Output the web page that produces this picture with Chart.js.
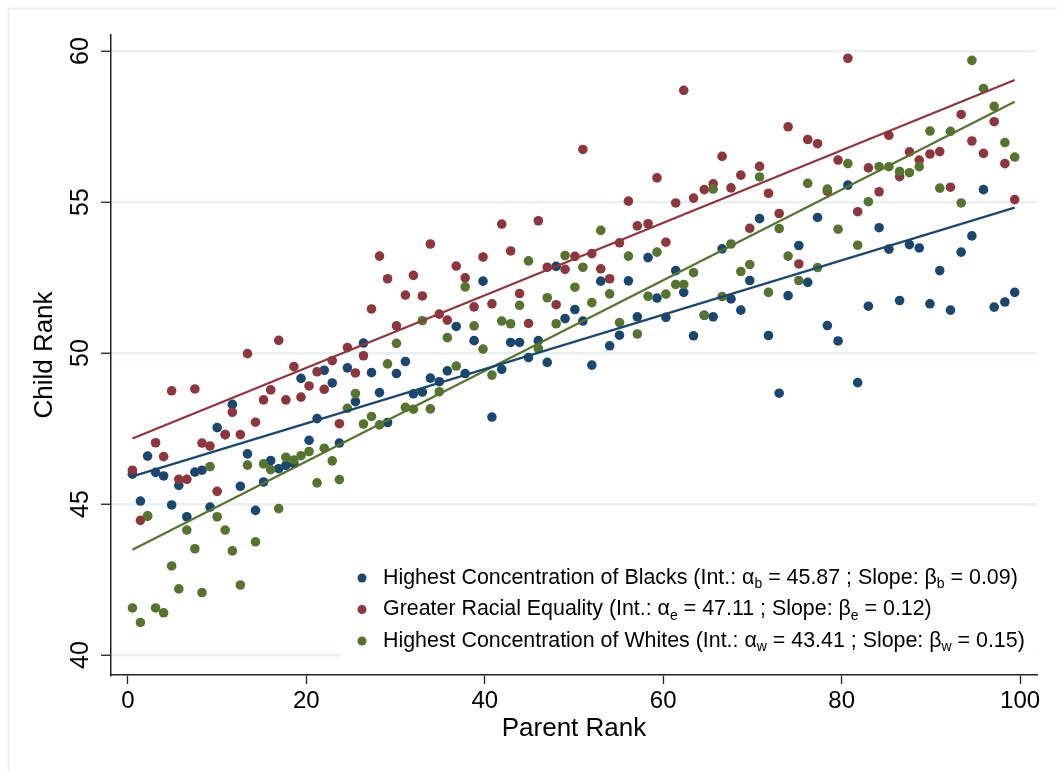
<!DOCTYPE html>
<html>
<head>
<meta charset="utf-8">
<title>Child Rank vs Parent Rank</title>
<script src="https://cdn.jsdelivr.net/npm/chart.js@4/dist/chart.umd.min.js"></script>
<style>
  html, body { margin: 0; padding: 0; background: #ffffff; }
  #chart { display: block; }
</style>
</head>
<body>
<canvas id="chart" width="1057" height="770"></canvas>
<script>
// Mean parent rank of each bin
const parentRank = [
  0.5, 1.4, 2.2, 3.1, 4.0, 4.9, 5.7, 6.6, 7.5, 8.3,
  9.2, 10.0, 10.9, 11.7, 12.6, 13.4, 14.3, 15.2, 16.0, 16.9,
  17.7, 18.6, 19.4, 20.3, 21.2, 22.0, 22.9, 23.7, 24.6, 25.5,
  26.4, 27.3, 28.2, 29.1, 30.1, 31.1, 32.0, 33.0, 33.9, 34.9,
  35.8, 36.8, 37.8, 38.8, 39.8, 40.8, 41.9, 42.9, 43.9, 44.9,
  46.0, 47.0, 48.0, 49.0, 50.1, 51.0, 52.0, 53.0, 54.0, 55.1,
  56.1, 57.1, 58.3, 59.3, 60.3, 61.4, 62.3, 63.4, 64.6, 65.6,
  66.6, 67.6, 68.7, 69.7, 70.8, 71.8, 73.0, 74.0, 75.2, 76.2,
  77.3, 78.4, 79.6, 80.7, 81.8, 83.0, 84.2, 85.3, 86.5, 87.6,
  88.7, 89.9, 91.0, 92.2, 93.4, 94.6, 95.9, 97.1, 98.3, 99.4
];

// Mean child rank per bin, by area group
const childRankBlacks = [
  45.99, 45.10, 46.59, 46.05, 45.93, 44.97, 45.62, 44.58, 46.06, 46.12,
  44.90, 47.53, 47.30, 48.30, 45.59, 46.66, 44.79, 45.73, 46.44, 46.17,
  46.28, 46.34, 49.16, 47.11, 47.83, 49.43, 49.01, 47.02, 49.51, 48.39,
  50.33, 49.35, 48.69, 47.70, 49.32, 49.72, 48.65, 48.71, 49.17, 49.05,
  49.41, 50.88, 49.32, 50.41, 52.38, 47.88, 49.46, 50.35, 50.35, 49.85,
  50.41, 49.69, 52.87, 51.14, 51.44, 51.06, 49.60, 52.38, 50.24, 50.59,
  52.39, 51.20, 53.16, 51.82, 51.18, 52.73, 52.01, 50.57, 51.25, 51.20,
  53.45, 51.79, 51.42, 52.40, 54.45, 50.58, 48.67, 51.90, 53.56, 52.34,
  54.49, 50.91, 50.40, 55.56, 49.02, 51.55, 54.15, 53.44, 51.74, 53.59,
  53.48, 51.63, 52.73, 51.42, 53.34, 53.88, 55.41, 51.52, 51.69, 52.01
];

const childRankEquality = [
  46.12, 44.46, 44.60, 47.03, 46.57, 48.75, 45.82, 45.82, 48.81, 47.02,
  46.92, 45.42, 47.30, 48.04, 47.30, 49.98, 47.71, 48.45, 48.78, 50.42,
  48.45, 49.55, 48.54, 48.91, 49.38, 48.80, 49.75, 47.66, 50.18, 49.34,
  49.91, 51.46, 53.21, 52.46, 50.90, 51.92, 52.57, 51.89, 53.61, 51.29,
  51.09, 52.88, 52.49, 51.53, 53.18, 51.63, 54.27, 53.38, 51.97, 50.98,
  54.38, 52.84, 51.60, 52.77, 53.20, 56.74, 53.29, 52.79, 52.46, 53.65,
  55.03, 54.21, 54.28, 55.80, 53.67, 54.97, 58.70, 55.13, 55.41, 55.60,
  56.51, 55.47, 55.89, 54.13, 56.18, 55.29, 54.62, 57.49, 52.95, 57.07,
  56.93, 55.36, 56.39, 59.76, 54.68, 56.13, 55.34, 57.21, 55.84, 56.66,
  56.39, 56.59, 56.67, 55.49, 57.90, 57.02, 56.61, 57.66, 56.27, 55.08
];

const childRankWhites = [
  41.56, 41.08, 44.61, 41.56, 41.40, 42.95, 42.19, 44.14, 43.52, 42.07,
  46.24, 44.58, 44.14, 43.45, 42.32, 46.29, 43.75, 46.33, 46.14, 44.85,
  46.55, 46.46, 46.60, 46.74, 45.70, 46.85, 46.43, 45.81, 48.17, 48.66,
  47.65, 47.90, 47.62, 49.64, 50.32, 48.20, 48.14, 51.07, 48.15, 48.72,
  50.51, 49.57, 52.19, 50.90, 50.13, 49.27, 51.06, 50.97, 51.58, 53.05,
  50.15, 51.83, 50.97, 53.23, 52.18, 52.84, 51.67, 54.06, 51.96, 51.01,
  53.21, 50.63, 51.88, 53.34, 51.95, 52.27, 52.27, 52.66, 51.25, 55.43,
  51.87, 53.61, 52.70, 52.93, 55.83, 52.01, 54.12, 53.21, 52.40, 55.62,
  52.83, 55.43, 54.10, 56.27, 53.57, 55.01, 56.17, 56.17, 56.01, 55.97,
  56.17, 57.35, 55.46, 57.34, 54.97, 59.69, 58.76, 58.17, 56.97, 56.49
];

// Group names, subscripts and linear-fit coefficients
const groupNames = [
  'Highest Concentration of Blacks',
  'Greater Racial Equality',
  'Highest Concentration of Whites'
];
const groupSubscripts = ['b', 'e', 'w'];
const fitIntercepts = [45.87, 47.11, 43.41];
const fitSlopes = [0.09, 0.12, 0.15];

// Axis ticks
const xTicks = [0, 20, 40, 60, 80, 100];
const yTicks = [40, 45, 50, 55, 60];

const groupColors = ['#1a476f', '#90353b', '#55752f'];
const FONT = '"Liberation Sans", Arial, Helvetica, sans-serif';
const seriesValues = [childRankBlacks, childRankEquality, childRankWhites];

function toPoints(ys) {
  return parentRank.map((x, i) => ({ x: x, y: ys[i] }));
}

const xFirst = parentRank[0];
const xLast = parentRank[parentRank.length - 1];

const datasets = [];
// fitted lines on top of the markers
for (let g = 0; g < 3; g++) {
  datasets.push({
    type: 'line',
    label: groupNames[g] + ' fit',
    data: [
      { x: xFirst, y: fitIntercepts[g] + fitSlopes[g] * xFirst },
      { x: xLast, y: fitIntercepts[g] + fitSlopes[g] * xLast }
    ],
    borderColor: groupColors[g],
    borderWidth: 2.2,
    pointRadius: 0,
    fill: false,
    order: 0
  });
}
// scatter markers: blacks drawn first, whites last
for (let g = 0; g < 3; g++) {
  datasets.push({
    type: 'scatter',
    label: groupNames[g],
    data: toPoints(seriesValues[g]),
    backgroundColor: groupColors[g],
    borderWidth: 0,
    pointRadius: 4.8,
    pointHoverRadius: 4.8,
    order: 3 - g
  });
}

// light frame round the graph region
const framePlugin = {
  id: 'frame',
  beforeDraw(chart) {
    const c = chart.ctx;
    c.save();
    c.fillStyle = '#ffffff';
    c.fillRect(0, 0, chart.width, chart.height);
    c.strokeStyle = '#e3ecee';
    c.lineWidth = 1.5;
    c.strokeRect(8.5, 8.5, chart.width + 20, chart.height + 20);
    c.restore();
  }
};

// legend with subscripted coefficient symbols
const legendPlugin = {
  id: 'subLegend',
  afterDatasetsDraw(chart) {
    const c = chart.ctx;
    const area = chart.chartArea;
    const boxLeft = 340, boxTop = 556;
    c.save();
    c.fillStyle = '#ffffff';
    c.fillRect(boxLeft, boxTop, area.right - boxLeft - 1, area.bottom - boxTop - 11);
    const rowY = [578, 609.5, 641];
    const mainSize = 21.4, subSize = 14;
    for (let g = 0; g < 3; g++) {
      const y = rowY[g];
      c.fillStyle = groupColors[g];
      c.beginPath();
      c.arc(362, y, 4.5, 0, Math.PI * 2);
      c.fill();
      const s = groupSubscripts[g];
      const parts = [
        [groupNames[g] + ' (Int.: \u03B1', false],
        [s, true],
        [' = ' + fitIntercepts[g].toFixed(2) + ' ; Slope: \u03B2', false],
        [s, true],
        [' = ' + fitSlopes[g].toFixed(2) + ')', false]
      ];
      let x = 383;
      c.fillStyle = '#000000';
      c.textAlign = 'left';
      c.textBaseline = 'middle';
      for (const [txt, isSub] of parts) {
        c.font = (isSub ? subSize : mainSize) + 'px ' + FONT;
        c.fillText(txt, x, isSub ? y + 6.5 : y);
        x += c.measureText(txt).width;
      }
    }
    c.restore();
  }
};

new Chart(document.getElementById('chart'), {
  type: 'scatter',
  data: { datasets: datasets },
  plugins: [framePlugin, legendPlugin],
  options: {
    responsive: false,
    animation: false,
    devicePixelRatio: 1,
    layout: { padding: { left: 0, right: 20, top: 35, bottom: 0 } },
    plugins: {
      legend: { display: false },
      tooltip: { enabled: false }
    },
    scales: {
      x: {
        type: 'linear',
        position: 'bottom',
        min: -1.9,
        max: 101.9,
        afterBuildTicks(scale) { scale.ticks = xTicks.map(v => ({ value: v })); },
        afterFit(scale) { scale.height = 95; },
        grid: { drawOnChartArea: false, drawTicks: true, tickLength: 9, tickColor: '#222222', tickWidth: 1.3 },
        border: { display: true, color: '#222222', width: 1.5 },
        ticks: { font: { family: FONT, size: 24 }, color: '#000000', padding: 3, maxRotation: 0, autoSkip: false },
        title: { display: true, text: 'Parent Rank', color: '#000000', font: { family: FONT, size: 26 }, padding: { top: 0, bottom: 26 } }
      },
      y: {
        type: 'linear',
        min: 39.34,
        max: 60.53,
        afterBuildTicks(scale) { scale.ticks = yTicks.map(v => ({ value: v })); },
        afterFit(scale) { scale.width = 111; },
        grid: { color: '#e8f0f2', lineWidth: 2.5, drawTicks: true, tickLength: 10, tickColor: '#222222', tickWidth: 1.3 },
        border: { display: true, color: '#222222', width: 1.5 },
        ticks: { font: { family: FONT, size: 25 }, color: '#000000', minRotation: 90, maxRotation: 90, crossAlign: 'center', padding: 6 },
        title: { display: true, text: 'Child Rank', color: '#000000', font: { family: FONT, size: 26 }, padding: { top: 29, bottom: 0 } }
      }
    }
  }
});
</script>
</body>
</html>
